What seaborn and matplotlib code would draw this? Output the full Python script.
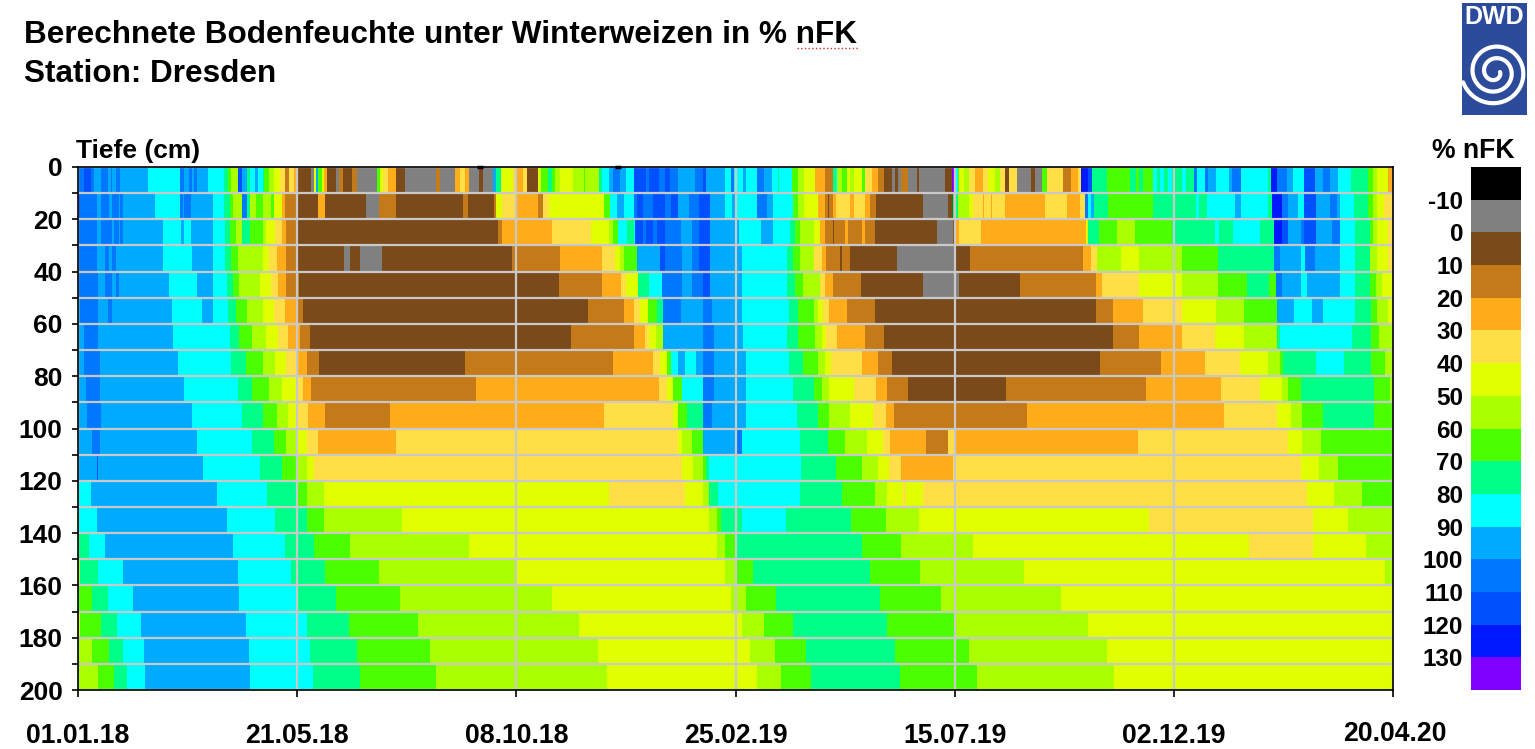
import numpy as np
import matplotlib
matplotlib.use("Agg")
import matplotlib.pyplot as plt
import seaborn as sns
from matplotlib.colors import BoundaryNorm, ListedColormap
from matplotlib.lines import Line2D
from matplotlib.patches import Rectangle
from matplotlib.transforms import ScaledTranslation

W, H = 1535, 749

# class midpoints in % nFK
BLK, GRY, DBR, BRN, ORG, LYE, YEL, LIM = -15, -5, 5, 15, 25, 35, 45, 55
GRN, SPR, CYA, AZU, BL1, BL2, BL3, VIO = 65, 75, 85, 95, 105, 115, 125, 135

class_edges = [-20, -10, 0, 10, 20, 30, 40, 50, 60, 70, 80, 90, 100, 110, 120, 130, 140]
class_colors = ["#000000", "#808080", "#7b4a1a", "#c47a18", "#ffac1a", "#ffdf45", "#e0ff00", "#aaff00",
                "#4cff00", "#00ff88", "#00ffff", "#00aaff", "#0077ff", "#0050ff", "#0018ff", "#7f00ff"]

depth_ticks = list(range(0, 201, 10))
date_days = [0, 140, 280, 420, 560, 700, 840]
date_labels = ["01.01.18", "21.05.18", "08.10.18", "25.02.19", "15.07.19", "02.12.19", "20.04.20"]
top_blips = [257, 345]

# (last day of the run, class) per 10 cm layer
row_005 = [(4,BL1),(8,BL2),(10,BL1),(15,AZU),(19,BL1),(21,AZU),(22,BL1),(24,AZU),(27,BL1),(45,AZU),(65,CYA),(68,BL1),
           (71,AZU),(73,BL1),(74,AZU),(76,BL1),(83,AZU),(93,CYA),(96,SPR),(98,GRN),(102,LIM),(105,BL2),(108,AZU),
           (110,SPR),(113,CYA),(115,AZU),(118,CYA),(119,SPR),(122,GRN),(125,LIM),(129,YEL),(132,LYE),(135,BRN),
           (138,LYE),(140,ORG),(149,DBR),(151,GRY),(152,YEL),(153,AZU),(156,GRN),(157,YEL),(159,ORG),(165,DBR),
           (167,GRY),(169,BRN),(175,DBR),(178,BRN),(191,GRY),(193,GRN),(195,YEL),(198,LYE),(203,ORG),(209,DBR),
           (229,GRY),(231,BRN),(241,GRY),(244,ORG),(247,LYE),(250,ORG),(256,GRY),(259,DBR),(265,GRY),(267,AZU),
           (270,SPR),(278,YEL),(280,LYE),(284,ORG),(287,LYE),(294,DBR),(296,YEL),(300,GRN),(303,SPR),(305,GRN),
           (308,LIM),(316,YEL),(323,LIM),(324,GRN),(333,LIM),(335,SPR),(339,CYA),(342,AZU),(346,BL1),(350,AZU),
           (355,CYA),(363,BL2),(365,BL1),(371,BL2),(375,BL1),(378,BL2),(383,BL1),(394,AZU),(399,BL1),(401,BL2),
           (413,AZU),(417,CYA),(419,BL1),(425,CYA),(427,AZU),(434,CYA),(438,BL1),(443,AZU),(447,CYA),(448,SPR),
           (456,CYA),(460,GRN),(464,LIM),(471,YEL),(477,ORG),(482,BRN),(484,SPR),(485,CYA),(488,LIM),(491,GRN),
           (493,YEL),(496,LIM),(501,YEL),(503,GRN),(507,LYE),(511,ORG),(515,BRN),(520,DBR),(522,GRY),(524,DBR),
           (526,GRY),(530,BRN),(536,GRY),(537,DBR),(554,GRY),(558,DBR),(560,VIO),(562,CYA),(563,GRN),(566,YEL),
           (569,LIM),(573,LYE),(578,ORG),(581,LYE),(586,YEL),(589,LIM),(592,LYE),(595,DBR),(600,LYE),(609,GRY),
           (611,DBR),(616,GRY),(619,GRN),(629,LYE),(634,BRN),(639,ORG),(641,LYE),(645,BL3),(648,BL2),(657,SPR),
           (672,GRN),(676,SPR),(678,GRN),(680,SPR),(687,GRN),(689,CYA),(691,SPR),(694,CYA),(696,SPR),(699,CYA),
           (705,SPR),(708,CYA),(713,SPR),(715,BL1),(720,CYA),(722,BL1),(727,AZU),(735,CYA),(737,AZU),(743,BL1),
           (760,CYA),(762,SPR),(766,BL3),(772,BL1),(776,AZU),(783,CYA),(790,BL2),(795,AZU),(800,BL1),(805,AZU),
           (813,CYA),(824,SPR),(827,GRN),(830,LIM),(837,YEL),(840,ORG)]
row_015 = [(1,BL2),(12,BL1),(15,AZU),(20,BL1),(22,AZU),(26,BL1),(27,AZU),(29,BL1),(49,AZU),(65,CYA),(67,BL1),(68,AZU),
           (72,BL1),(86,AZU),(93,CYA),(97,SPR),(99,GRN),(105,LIM),(108,BL1),(110,SPR),(114,LIM),(118,GRN),(123,LIM),
           (125,GRN),(130,YEL),(132,ORG),(140,BRN),(153,DBR),(158,ORG),(184,DBR),(192,GRY),(203,BRN),(246,DBR),
           (249,BRN),(266,DBR),(267,BRN),(271,YEL),(280,LYE),(294,ORG),(297,BRN),(301,LYE),(336,YEL),(340,GRN),
           (344,CYA),(349,AZU),(355,CYA),(357,BL1),(361,BL2),(367,BL1),(375,BL2),(379,BL1),(383,BL2),(390,AZU),
           (397,BL1),(404,BL2),(413,AZU),(418,CYA),(420,AZU),(434,CYA),(440,BL1),(444,AZU),(457,CYA),(460,GRN),
           (464,LIM),(473,YEL),(477,ORG),(479,BRN),(480,DBR),(482,BRN),(484,ORG),(493,LYE),(496,ORG),(503,LYE),
           (506,ORG),(510,BRN),(540,DBR),(556,GRY),(559,DBR),(562,SPR),(569,LIM),(572,YEL),(578,LYE),(579,ORG),
           (583,LYE),(584,ORG),(592,LYE),(618,ORG),(632,LYE),(640,ORG),(643,LYE),(645,BL1),(647,CYA),(649,AZU),
           (658,SPR),(687,GRN),(714,SPR),(716,CYA),(721,SPR),(739,CYA),(743,AZU),(760,CYA),(763,SPR),(769,BL3),
           (773,BL1),(779,AZU),(783,CYA),(791,BL2),(800,AZU),(804,BL1),(806,AZU),(815,CYA),(824,SPR),(827,GRN),
           (830,LIM),(834,YEL),(840,LYE)]
row_025 = [(12,BL1),(15,AZU),(22,BL1),(23,AZU),(26,BL1),(27,AZU),(29,BL1),(54,AZU),(66,CYA),(68,AZU),(72,CYA),(86,AZU),
           (94,CYA),(97,SPR),(101,GRN),(105,LIM),(110,SPR),(118,GRN),(120,LIM),(126,YEL),(130,LYE),(133,ORG),(140,BRN),
           (268,DBR),(271,BRN),(303,ORG),(328,LYE),(339,YEL),(342,LIM),(345,GRN),(351,CYA),(355,SPR),(356,CYA),
           (361,BL2),(363,BL1),(367,BL2),(370,BL1),(375,BL2),(385,BL1),(392,AZU),(397,BL1),(404,BL2),(422,AZU),
           (436,CYA),(444,AZU),(455,CYA),(458,SPR),(461,GRN),(470,LIM),(474,YEL),(477,ORG),(482,BRN),(483,DBR),
           (490,BRN),(492,ORG),(501,BRN),(503,ORG),(509,BRN),(549,DBR),(559,GRY),(560,DBR),(563,ORG),(577,LYE),
           (644,ORG),(645,YEL),(652,SPR),(664,GRN),(675,LIM),(699,GRN),(726,SPR),(729,CYA),(738,SPR),(755,CYA),
           (764,SPR),(769,BL3),(773,BL2),(781,AZU),(783,BL1),(791,BL2),(801,AZU),(806,BL1),(816,CYA),(825,SPR),
           (827,GRN),(830,LIM),(837,YEL),(840,LYE)]
row_035 = [(12,BL1),(17,AZU),(20,BL1),(22,AZU),(24,BL1),(26,AZU),(54,AZU),(73,CYA),(86,AZU),(94,CYA),(98,SPR),(102,GRN),
           (118,LIM),(122,YEL),(127,LYE),(133,ORG),(140,BRN),(170,DBR),(174,GRY),(180,DBR),(194,GRY),(277,DBR),(308,BRN),
           (335,ORG),(343,LYE),(346,YEL),(349,LIM),(357,GRN),(372,AZU),(375,BL2),(386,BL1),(392,AZU),(397,BL1),(404,BL2),
           (424,AZU),(453,CYA),(457,SPR),(461,GRN),(470,LIM),(475,LYE),(478,ORG),(487,BRN),(488,DBR),(493,BRN),(523,DBR),
           (560,GRY),(570,DBR),(642,BRN),(647,ORG),(651,LYE),(666,LIM),(678,YEL),(705,LIM),(728,GRN),(764,SPR),(768,BL1),
           (781,AZU),(784,CYA),(790,BL1),(806,AZU),(816,CYA),(825,SPR),(830,LIM),(837,YEL),(840,LYE)]
row_045 = [(13,BL1),(17,AZU),(22,BL1),(24,AZU),(26,BL1),(58,AZU),(76,CYA),(86,AZU),(95,CYA),(99,SPR),(103,GRN),(116,LIM),
           (123,YEL),(128,LYE),(133,ORG),(141,BRN),(307,DBR),(335,BRN),(347,ORG),(350,LYE),(358,YEL),(365,SPR),(373,CYA),
           (386,BL1),(392,AZU),(399,BL1),(404,BL2),(424,AZU),(453,CYA),(458,SPR),(463,GRN),(474,LIM),(477,LYE),(482,ORG),
           (500,BRN),(540,DBR),(563,GRY),(602,DBR),(650,BRN),(654,ORG),(678,LYE),(705,YEL),(728,LIM),(747,GRN),(761,SPR),
           (765,GRN),(769,BL1),(781,AZU),(785,CYA),(800,AZU),(806,AZU),(816,CYA),(825,SPR),(829,GRN),(833,LIM),(840,YEL)]
row_055 = [(1,AZU),(13,BL1),(19,AZU),(22,BL1),(60,AZU),(79,CYA),(86,AZU),(96,CYA),(101,SPR),(108,GRN),(118,LIM),(125,YEL),
           (132,LYE),(140,ORG),(144,BRN),(326,DBR),(349,BRN),(355,ORG),(359,LYE),(364,YEL),(370,GRN),(374,SPR),(385,BL1),
           (399,AZU),(405,BL1),(424,AZU),(454,CYA),(460,SPR),(470,GRN),(473,LIM),(476,YEL),(480,LYE),(491,ORG),(509,BRN),
           (650,DBR),(661,BRN),(680,ORG),(705,LYE),(727,YEL),(745,LIM),(766,GRN),(777,AZU),(788,CYA),(795,AZU),(816,CYA),
           (826,SPR),(830,GRN),(837,LIM),(840,YEL)]
row_065 = [(4,AZU),(13,BL1),(61,AZU),(97,CYA),(103,SPR),(111,GRN),(120,LIM),(128,YEL),(134,LYE),(142,ORG),(148,BRN),(315,DBR),
           (355,BRN),(362,ORG),(365,LYE),(369,YEL),(374,LIM),(381,AZU),(399,AZU),(406,BL1),(425,AZU),(453,CYA),(460,SPR),
           (471,GRN),(475,LIM),(478,YEL),(485,LYE),(503,ORG),(515,BRN),(661,DBR),(678,BRN),(705,ORG),(726,LYE),(745,YEL),
           (766,LIM),(768,SPR),(814,CYA),(826,SPR),(831,GRN),(840,LIM)]
row_075 = [(4,AZU),(14,BL1),(64,AZU),(98,CYA),(107,SPR),(118,GRN),(126,LIM),(133,YEL),(140,LYE),(146,ORG),(154,BRN),(247,DBR),
           (342,BRN),(367,ORG),(372,LYE),(376,YEL),(379,GRN),(383,CYA),(388,AZU),(395,CYA),(399,AZU),(406,BL1),(427,AZU),
           (454,CYA),(463,SPR),(473,GRN),(477,LIM),(481,YEL),(501,LYE),(511,ORG),(520,BRN),(653,DBR),(692,BRN),(720,ORG),
           (742,LYE),(760,YEL),(768,LIM),(770,GRN),(791,SPR),(809,CYA),(826,SPR),(835,GRN),(840,LIM)]
row_085 = [(5,AZU),(14,BL1),(68,AZU),(102,CYA),(111,SPR),(122,GRN),(130,LIM),(140,YEL),(144,LYE),(149,ORG),(254,BRN),(371,ORG),
           (376,LYE),(380,YEL),(386,GRN),(399,CYA),(406,BL1),(427,AZU),(457,CYA),(470,SPR),(475,GRN),(480,LIM),(496,YEL),
           (510,LYE),(517,ORG),(530,BRN),(593,DBR),(682,BRN),(730,ORG),(755,LYE),(769,YEL),(773,LIM),(781,GRN),(828,SPR),
           (838,GRN),(840,LIM)]
row_095 = [(6,AZU),(15,BL1),(73,AZU),(105,CYA),(118,SPR),(127,GRN),(134,LIM),(140,YEL),(147,LYE),(158,ORG),(199,BRN),(336,ORG),
           (380,LYE),(383,YEL),(389,GRN),(399,SPR),(405,BL1),(427,AZU),(459,CYA),(473,SPR),(480,GRN),(493,LIM),(508,YEL),
           (516,LYE),(521,ORG),(606,BRN),(732,ORG),(766,LYE),(775,YEL),(782,LIM),(795,GRN),(828,SPR),(840,GRN)]
row_105 = [(9,AZU),(14,BL1),(76,AZU),(111,CYA),(125,SPR),(133,GRN),(140,LIM),(146,YEL),(153,LYE),(203,ORG),(383,LYE),(386,YEL),
           (392,LIM),(399,GRN),(420,AZU),(424,BL1),(461,CYA),(479,SPR),(490,GRN),(504,LIM),(514,YEL),(519,LYE),(542,ORG),
           (556,BRN),(560,LYE),(677,ORG),(773,LYE),(782,YEL),(794,LIM),(840,GRN)]
row_115 = [(12,AZU),(13,BL2),(80,AZU),(116,CYA),(130,SPR),(139,GRN),(146,LIM),(151,YEL),(386,LYE),(393,YEL),(399,LIM),(401,GRN),
           (403,SPR),(462,CYA),(484,SPR),(501,GRN),(511,LIM),(518,YEL),(526,LYE),(559,ORG),(781,LYE),(793,YEL),(805,LIM),(840,GRN)]
row_125 = [(8,CYA),(89,AZU),(121,CYA),(139,SPR),(146,GRN),(157,LIM),(339,YEL),(388,LYE),(399,YEL),(403,LIM),(409,SPR),(461,CYA),
           (488,SPR),(509,GRN),(517,LIM),(527,YEL),(529,LYE),(540,YEL),(785,LYE),(802,YEL),(820,LIM),(840,GRN)]
row_135 = [(12,CYA),(95,AZU),(126,CYA),(146,SPR),(157,GRN),(207,LIM),(403,YEL),(408,LIM),(411,GRN),(424,SPR),(452,CYA),(494,SPR),
           (516,GRN),(537,LIM),(684,YEL),(789,LYE),(811,YEL),(840,LIM)]
row_145 = [(7,SPR),(17,CYA),(99,AZU),(132,CYA),(151,SPR),(174,GRN),(250,LIM),(408,YEL),(413,LIM),(420,GRN),(501,SPR),(526,GRN),
           (572,LIM),(748,YEL),(789,LYE),(823,YEL),(840,LIM)]
row_155 = [(1,LIM),(13,SPR),(29,CYA),(102,AZU),(136,CYA),(158,SPR),(192,GRN),(280,LIM),(413,YEL),(420,LIM),(431,GRN),(506,SPR),
           (538,GRN),(604,LIM),(835,YEL),(840,LIM)]
row_165 = [(9,GRN),(19,SPR),(35,CYA),(103,AZU),(140,CYA),(165,SPR),(206,GRN),(303,LIM),(417,YEL),(427,LIM),(446,GRN),(512,SPR),
           (551,GRN),(628,LIM),(840,YEL)]
row_175 = [(1,YEL),(15,GRN),(25,SPR),(40,CYA),(107,AZU),(146,CYA),(173,SPR),(217,GRN),(320,LIM),(424,YEL),(438,LIM),(457,GRN),
           (517,SPR),(560,GRN),(645,LIM),(840,YEL)]
row_185 = [(9,LIM),(20,GRN),(29,SPR),(42,CYA),(109,AZU),(148,CYA),(178,SPR),(225,GRN),(332,LIM),(429,YEL),(445,LIM),(465,GRN),
           (522,SPR),(569,GRN),(657,LIM),(840,YEL)]
row_195 = [(13,LIM),(23,GRN),(31,SPR),(43,CYA),(110,AZU),(150,CYA),(180,SPR),(229,GRN),(338,LIM),(434,YEL),(449,LIM),(468,GRN),
           (525,SPR),(574,GRN),(662,LIM),(840,YEL)]

rows = [row_005, row_015, row_025, row_035, row_045, row_055, row_065, row_075, row_085, row_095,
        row_105, row_115, row_125, row_135, row_145, row_155, row_165, row_175, row_185, row_195]


def expand_row(runs):
    out = np.zeros(date_days[-1])
    start = 0
    for end, value in runs:
        out[start:end] = value
        start = end
    return out


def px_box(x0, y0, x1, y1):
    return [x0 / W, 1 - y1 / H, (x1 - x0) / W, (y1 - y0) / H]


def draw_logo(fig):
    # DWD logo: blue plate, white lettering and spiral
    logo = fig.add_axes(px_box(1462, 3, 1527, 115))
    logo.set_xlim(0, 65)
    logo.set_ylim(112, 0)
    logo.axis("off")
    plate = Rectangle((0, 0), 65, 112, color="#2c4b9b")
    logo.add_patch(plate)
    logo.text(32.5, 14, "DWD", color="white", fontsize=18, fontweight="bold", ha="center", va="center")
    theta = np.linspace(0, 2.45 * np.pi * 2, 400)
    radius = 5 + 1.85 * theta
    line, = logo.plot(33 + radius * np.cos(theta), 69 + radius * np.sin(theta), color="white", lw=3)
    line.set_clip_path(plate)


sns.set_theme(style="white")
plt.rcParams["font.family"] = ["Liberation Sans", "DejaVu Sans"]
plt.rcParams["font.weight"] = "bold"
plt.rcParams["axes.unicode_minus"] = False
plt.rcParams["text.color"] = "black"
plt.rcParams["xtick.labelcolor"] = "black"
plt.rcParams["ytick.labelcolor"] = "black"

matrix = np.vstack([expand_row(r) for r in rows])

fig = plt.figure(figsize=(W / 100, H / 100), dpi=100, facecolor="white")
ax = fig.add_axes(px_box(78, 167, 1393, 690))
cax = fig.add_axes(px_box(1471, 167, 1521, 690))

cmap = ListedColormap(class_colors)
norm = BoundaryNorm(class_edges, cmap.N)
sns.heatmap(matrix, ax=ax, cmap=cmap, norm=norm, cbar_ax=cax, xticklabels=False, yticklabels=False)

ax.set_xticks(date_days)
ax.set_xticklabels(date_labels, rotation=0)
ax.set_yticks([d / 10 for d in depth_ticks])
ax.set_yticklabels([str(d) if d % 20 == 0 else "" for d in depth_ticks], rotation=0)
ax.tick_params(axis="x", length=5, width=1.2, pad=19, labelsize=19.2, color="black", labelcolor="black", bottom=True)
ax.tick_params(axis="y", length=4.5, width=1.2, pad=6.5, labelsize=19, color="black", labelcolor="black", left=True)
ax.set_axisbelow("line")
ax.grid(True, color="#c9c9c9", lw=1.6)
for spine in ax.spines.values():
    spine.set_visible(True)
    spine.set_color("black")
    spine.set_linewidth(1.2)
ax.plot(top_blips, [0, 0], ls="none", marker="_", ms=4, mew=2.5, color="black", clip_on=False)

last = ax.get_xticklabels()[-1]
last.set_transform(last.get_transform() + ScaledTranslation(2 / 100, 2 / 100, fig.dpi_scale_trans))

cbar = ax.collections[0].colorbar
cbar.set_ticks(class_edges[1:-1])
cbar.ax.invert_yaxis()
cbar.ax.yaxis.set_ticks_position("left")
cbar.ax.tick_params(which="both", length=0, pad=5.5, labelsize=17.5, labelcolor="black")
cbar.outline.set_visible(False)

fig.text(24 / W, 1 - 43 / H, "Berechnete Bodenfeuchte unter Winterweizen in % nFK", fontsize=22.7)
fig.text(24 / W, 1 - 82 / H, "Station: Dresden", fontsize=22.7)
fig.text(76 / W, 1 - 158 / H, "Tiefe (cm)", fontsize=19)
fig.text(1432 / W, 1 - 158 / H, "% nFK", fontsize=19.2)
fig.add_artist(Line2D([797 / W, 858 / W], [1 - 48 / H] * 2, color="#d03030", lw=1, ls=":"))

draw_logo(fig)

fig.savefig("out.png", dpi=100)
